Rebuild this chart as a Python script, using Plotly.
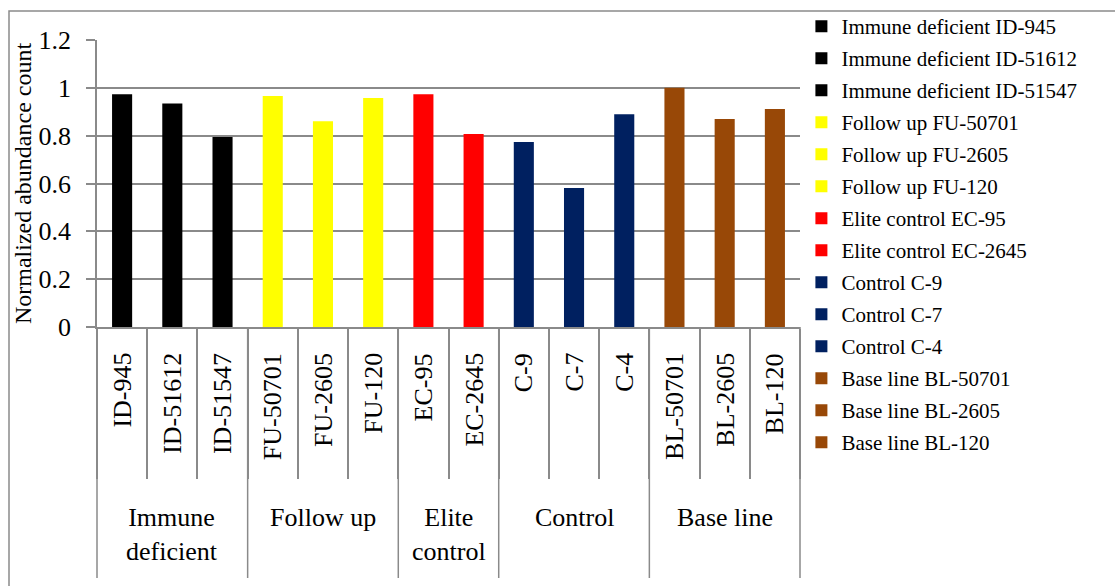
import plotly.graph_objects as go

# Sample categories (inner axis level) and normalized abundance values
categories = ["ID-945", "ID-51612", "ID-51547",
              "FU-50701", "FU-2605", "FU-120",
              "EC-95", "EC-2645",
              "C-9", "C-7", "C-4",
              "BL-50701", "BL-2605", "BL-120"]
values = [0.973, 0.935, 0.794,
          0.966, 0.860, 0.957,
          0.973, 0.807,
          0.773, 0.581, 0.890,
          1.000, 0.870, 0.911]

# Outer axis level: cohort groups and how many samples each holds
groups = ["Immune<br>deficient", "Follow up", "Elite<br>control", "Control", "Base line"]
group_names = ["Immune deficient", "Follow up", "Elite control", "Control", "Base line"]
group_sizes = [3, 3, 2, 3, 3]
group_colors = ["#000000", "#FFFF00", "#FF0000", "#002060", "#984807"]

FONT = "Liberation Serif"
GRAY = "#8a8a8a"

W, H = 1115, 586
ML, MR, MT, MB = 97, 315, 40, 259
plot_w = W - ML - MR
plot_h = H - MT - MB

fig = go.Figure()

idx = 0
for gname, size, color in zip(group_names, group_sizes, group_colors):
    for _ in range(size):
        cat = categories[idx]
        fig.add_trace(go.Bar(
            x=[cat], y=[values[idx]],
            name=f"{gname} {cat}",
            legendgroup=cat,
            marker=dict(color=color, line=dict(width=0)),
            width=0.4,
        ))
        idx += 1

n = len(categories)

# Long dividers between cohort groups, reaching down past the group labels
shapes = []
bounds = [0]
for size in group_sizes:
    bounds.append(bounds[-1] + size)
for b in bounds:
    shapes.append(dict(
        type="line", xref="x domain", yref="paper",
        x0=b / n, x1=b / n,
        y0=0, y1=-251 / plot_h,
        line=dict(color=GRAY, width=1.5),
    ))

# Outer chart frame (extends past the right and bottom edges of the page)
shapes.append(dict(
    type="rect", xref="paper", yref="paper",
    x0=-88 / plot_w, x1=2.0,
    y0=-2.0, y1=1 + 29 / plot_h,
    line=dict(color=GRAY, width=1.5), fillcolor="rgba(0,0,0,0)",
    layer="below",
))

annotations = []

# Rotated sample labels under each bar
for i, cat in enumerate(categories):
    annotations.append(dict(
        x=cat, xref="x", y=0, yref="paper",
        yanchor="top", xanchor="center", yshift=-24,
        text=cat, textangle=-90, showarrow=False,
        font=dict(family=FONT, size=26, color="#000000"),
    ))

# Cohort group labels under the sample labels
start = 0
for label, size in zip(groups, group_sizes):
    center = start + (size - 1) / 2
    annotations.append(dict(
        x=center, xref="x",
        y=0, yref="paper", yanchor="top", yshift=-174,
        text=label, showarrow=False, align="center",
        font=dict(family=FONT, size=26, color="#000000"),
    ))
    start += size

fig.update_layout(
    width=W, height=H,
    margin=dict(l=ML, r=MR, t=MT, b=MB, autoexpand=False),
    paper_bgcolor="white", plot_bgcolor="white",
    barmode="overlay",
    font=dict(family=FONT, color="#000000"),
    showlegend=True,
    legend=dict(
        x=1.002, xanchor="left", y=1 + 34 / plot_h, yanchor="top",
        traceorder="grouped", tracegroupgap=1.7,
        maxheight=580,
        font=dict(family=FONT, size=21, color="#000000"),
        bgcolor="rgba(0,0,0,0)", borderwidth=0,
    ),
    xaxis=dict(
        type="category", categoryorder="array", categoryarray=categories,
        range=[-0.5, n - 0.5],
        showgrid=False, zeroline=False,
        showline=True, linecolor=GRAY, linewidth=1.5,
        ticks="outside", tickson="boundaries", ticklen=150,
        tickcolor=GRAY, tickwidth=1.5,
        showticklabels=False,
    ),
    yaxis=dict(
        range=[0, 1.2], dtick=0.2, tick0=0,
        showgrid=True, gridcolor=GRAY, gridwidth=1.5,
        zeroline=False,
        showline=True, linecolor=GRAY, linewidth=1.5,
        ticks="outside", ticklen=9, tickcolor=GRAY, tickwidth=1.5,
        ticklabelstandoff=10, automargin=False,
        tickfont=dict(family=FONT, size=26, color="#000000"),
        title=dict(text="Normalized abundance count", standoff=0,
                   font=dict(family=FONT, size=24, color="#000000")),
    ),
    shapes=shapes,
    annotations=annotations,
)

fig.write_html("out.html")
